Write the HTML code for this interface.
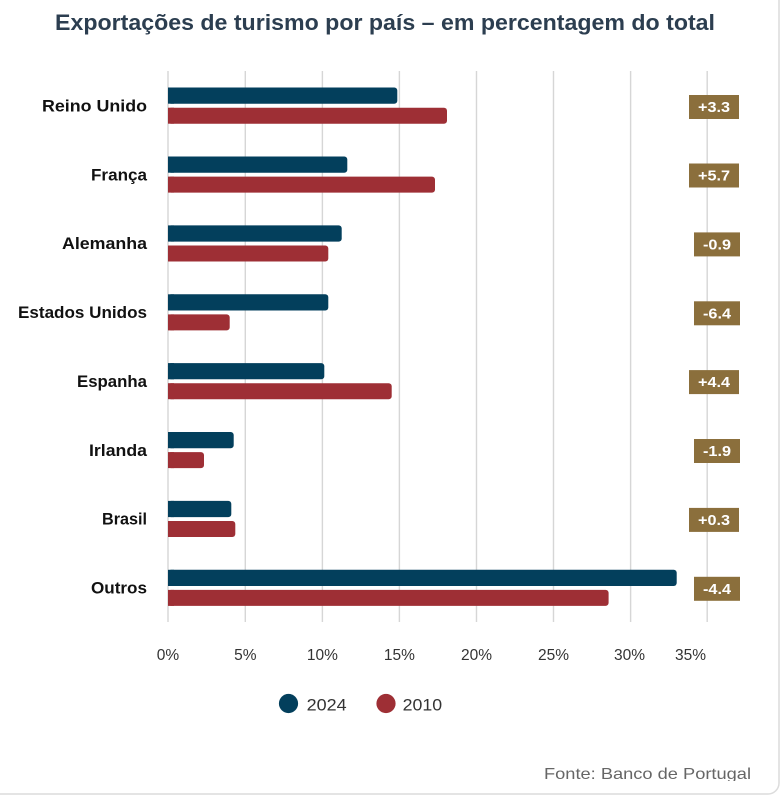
<!DOCTYPE html>
<html><head><meta charset="utf-8">
<style>
html,body{margin:0;padding:0;background:#fff;}
svg{display:block;}
text{font-family:"Liberation Sans",Arial,sans-serif;}
</style></head>
<body>
<svg width="780" height="796" viewBox="0 0 780 796" xmlns="http://www.w3.org/2000/svg">
<defs><clipPath id="cl"><rect x="0" y="0" width="780" height="781"/></clipPath></defs>
<rect x="-20" y="-20" width="799" height="814" rx="11" ry="11" fill="#fff" stroke="#dcdcdc" stroke-width="1.5"/>
<text x="55" y="30" font-size="22" font-weight="bold" fill="#2c3e50" textLength="660" lengthAdjust="spacingAndGlyphs">Exportações de turismo por país – em percentagem do total</text>
<g stroke="#d6d6d6" stroke-width="1.4">
<line x1="168" y1="71" x2="168" y2="622"/>
<line x1="245.3" y1="71" x2="245.3" y2="622"/>
<line x1="322.4" y1="71" x2="322.4" y2="622"/>
<line x1="399.4" y1="71" x2="399.4" y2="622"/>
<line x1="476.5" y1="71" x2="476.5" y2="622"/>
<line x1="553.5" y1="71" x2="553.5" y2="622"/>
<line x1="630.6" y1="71" x2="630.6" y2="622"/>
<line x1="707.2" y1="71" x2="707.2" y2="622"/>
</g>
<g font-size="17" font-weight="bold" fill="#111" text-anchor="end">
<text x="147" y="111.4" textLength="105" lengthAdjust="spacingAndGlyphs">Reino Unido</text>
<text x="147" y="180.3" textLength="56" lengthAdjust="spacingAndGlyphs">França</text>
<text x="147" y="249.2" textLength="85" lengthAdjust="spacingAndGlyphs">Alemanha</text>
<text x="147" y="318.1" textLength="129" lengthAdjust="spacingAndGlyphs">Estados Unidos</text>
<text x="147" y="386.9" textLength="70" lengthAdjust="spacingAndGlyphs">Espanha</text>
<text x="147" y="455.8" textLength="58" lengthAdjust="spacingAndGlyphs">Irlanda</text>
<text x="147" y="524.7" textLength="45" lengthAdjust="spacingAndGlyphs">Brasil</text>
<text x="147" y="593.6" textLength="56" lengthAdjust="spacingAndGlyphs">Outros</text>
</g>
<g fill="#033f5c">
<rect x="168" y="87.5" width="229.3" height="16.2" rx="3"/><rect x="168" y="87.5" width="6" height="16.2"/>
<rect x="168" y="156.5" width="179.3" height="16.2" rx="3"/><rect x="168" y="156.5" width="6" height="16.2"/>
<rect x="168" y="225.4" width="173.7" height="16.2" rx="3"/><rect x="168" y="225.4" width="6" height="16.2"/>
<rect x="168" y="294.3" width="160.3" height="16.2" rx="3"/><rect x="168" y="294.3" width="6" height="16.2"/>
<rect x="168" y="363.1" width="156.3" height="16.2" rx="3"/><rect x="168" y="363.1" width="6" height="16.2"/>
<rect x="168" y="432" width="65.7" height="16.2" rx="3"/><rect x="168" y="432" width="6" height="16.2"/>
<rect x="168" y="500.9" width="63.3" height="16.2" rx="3"/><rect x="168" y="500.9" width="6" height="16.2"/>
<rect x="168" y="569.8" width="508.7" height="16.2" rx="3"/><rect x="168" y="569.8" width="6" height="16.2"/>
</g>
<g fill="#9e2f35">
<rect x="168" y="107.7" width="279" height="16" rx="3"/><rect x="168" y="107.7" width="6" height="16"/>
<rect x="168" y="176.6" width="267" height="16" rx="3"/><rect x="168" y="176.6" width="6" height="16"/>
<rect x="168" y="245.5" width="160.3" height="16" rx="3"/><rect x="168" y="245.5" width="6" height="16"/>
<rect x="168" y="314.4" width="61.7" height="16" rx="3"/><rect x="168" y="314.4" width="6" height="16"/>
<rect x="168" y="383.2" width="223.7" height="16" rx="3"/><rect x="168" y="383.2" width="6" height="16"/>
<rect x="168" y="452.1" width="36" height="16" rx="3"/><rect x="168" y="452.1" width="6" height="16"/>
<rect x="168" y="521" width="67.3" height="16" rx="3"/><rect x="168" y="521" width="6" height="16"/>
<rect x="168" y="589.9" width="440.6" height="16" rx="3"/><rect x="168" y="589.9" width="6" height="16"/>
</g>
<g fill="#8b6f3c">
<rect x="689" y="95" width="50" height="24"/>
<rect x="689" y="163.5" width="50" height="24"/>
<rect x="694" y="232.4" width="46" height="24"/>
<rect x="694" y="301.3" width="46" height="24"/>
<rect x="689" y="370.1" width="50" height="24"/>
<rect x="694" y="439" width="46" height="24"/>
<rect x="689" y="507.9" width="50" height="24"/>
<rect x="694" y="576.8" width="46" height="24"/>
</g>
<g font-size="14.5" font-weight="bold" fill="#fff" text-anchor="middle">
<text x="714" y="112" textLength="32" lengthAdjust="spacingAndGlyphs">+3.3</text>
<text x="714" y="180.5" textLength="32" lengthAdjust="spacingAndGlyphs">+5.7</text>
<text x="717" y="249.4" textLength="28" lengthAdjust="spacingAndGlyphs">-0.9</text>
<text x="717" y="318.3" textLength="28" lengthAdjust="spacingAndGlyphs">-6.4</text>
<text x="714" y="387.1" textLength="32" lengthAdjust="spacingAndGlyphs">+4.4</text>
<text x="717" y="456" textLength="28" lengthAdjust="spacingAndGlyphs">-1.9</text>
<text x="714" y="524.9" textLength="32" lengthAdjust="spacingAndGlyphs">+0.3</text>
<text x="717" y="593.8" textLength="28" lengthAdjust="spacingAndGlyphs">-4.4</text>
</g>
<g font-size="15.5" fill="#333" text-anchor="middle">
<text x="168" y="660">0%</text>
<text x="245.3" y="660">5%</text>
<text x="322.4" y="660">10%</text>
<text x="399.4" y="660">15%</text>
<text x="476.5" y="660">20%</text>
<text x="553.5" y="660">25%</text>
<text x="629.5" y="660">30%</text>
<text x="706" y="660" text-anchor="end">35%</text>
</g>
<circle cx="288.5" cy="703.5" r="9.6" fill="#033f5c"/>
<text x="306.6" y="710.7" font-size="17" fill="#333" textLength="40" lengthAdjust="spacingAndGlyphs">2024</text>
<circle cx="386" cy="703.5" r="9.6" fill="#9e2f35"/>
<text x="402.6" y="710.7" font-size="17" fill="#333" textLength="39.5" lengthAdjust="spacingAndGlyphs">2010</text>
<g clip-path="url(#cl)">
<text x="544" y="779" font-size="16" fill="#666" textLength="207" lengthAdjust="spacingAndGlyphs">Fonte: Banco de Portugal</text>
</g>
</svg>
</body></html>
